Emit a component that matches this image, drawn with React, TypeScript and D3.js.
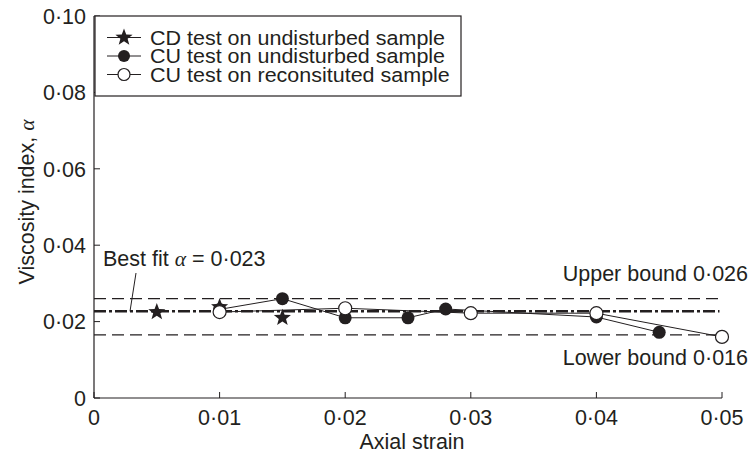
import React from "react";
import * as d3 from "d3";

const xTicks = [0, 0.01, 0.02, 0.03, 0.04, 0.05];
const yTicks = [0, 0.02, 0.04, 0.06, 0.08, 0.1];
const xTickLabels = ["0", "0·01", "0·02", "0·03", "0·04", "0·05"];
const yTickLabels = ["0", "0·02", "0·04", "0·06", "0·08", "0·10"];

const cdX = [0.005, 0.01, 0.015];
const cdY = [0.0225, 0.0238, 0.021];

const cuUndX = [0.01, 0.015, 0.02, 0.025, 0.028, 0.04, 0.045];
const cuUndY = [0.0232, 0.026, 0.021, 0.021, 0.0233, 0.0212, 0.0172];

const cuRecX = [0.01, 0.02, 0.03, 0.04, 0.05];
const cuRecY = [0.0225, 0.0235, 0.0222, 0.0222, 0.016];

const bestFit = 0.0227;
const upperBound = 0.026;
const lowerBound = 0.0165;
const refLineEnd = 0.0498;

const legendLabels = [
  "CD test on undisturbed sample",
  "CU test on undisturbed sample",
  "CU test on reconsituted sample",
];

const INK = "#231f20";
const FONT = "'Liberation Sans', Arial, sans-serif";
const FS = 21.5;
const LEG_FS = 19.5;
const LEG_SX = 21.5 / 19.5;

function starPath(cx: number, cy: number, R: number, r: number) {
  const pts: string[] = [];
  for (let i = 0; i < 10; i++) {
    const ang = -Math.PI / 2 + (i * Math.PI) / 5;
    const rad = i % 2 === 0 ? R : r;
    pts.push(`${cx + rad * Math.cos(ang)},${cy + rad * Math.sin(ang)}`);
  }
  return `M${pts.join("L")}Z`;
}

export default function App() {
  const W = 753;
  const H = 457;
  const x = d3.scaleLinear().domain([0, 0.05]).range([94, 722]);
  const y = d3.scaleLinear().domain([0, 0.1]).range([398, 16]);
  const line = d3
    .line<[number, number]>()
    .x((d) => x(d[0]))
    .y((d) => y(d[1]));

  const und: [number, number][] = cuUndX.map((v, i) => [v, cuUndY[i]]);
  const rec: [number, number][] = cuRecX.map((v, i) => [v, cuRecY[i]]);

  const legendRows = [37.5, 56, 74.5];

  return (
    <svg
      width={W}
      height={H}
      style={{ position: "absolute", left: 0, top: 0, background: "#fff" }}
      fontFamily={FONT}
    >
      <rect x={0} y={0} width={W} height={H} fill="#fff" />
      {/* axes */}
      <line x1={x(0)} x2={x(0)} y1={y(0)} y2={y(0.1)} stroke={INK} strokeWidth={1.2} />
      <line x1={x(0)} x2={x(0.05)} y1={y(0)} y2={y(0)} stroke={INK} strokeWidth={1.2} />
      {yTicks.map((t, i) => (
        <g key={"yt" + i}>
          <line x1={x(0)} x2={x(0) + 6} y1={y(t)} y2={y(t)} stroke={INK} strokeWidth={1} />
          <text
            x={86}
            y={y(t)}
            dy="0.36em"
            textAnchor="end"
            fontSize={FS}
            fill={INK}
          >
            {yTickLabels[i]}
          </text>
        </g>
      ))}
      {xTicks.map((t, i) => (
        <g key={"xt" + i}>
          <line x1={x(t)} x2={x(t)} y1={y(0)} y2={y(0) - 6} stroke={INK} strokeWidth={1} />
          <text
            x={x(t)}
            y={417}
            dy="0.36em"
            textAnchor="middle"
            fontSize={FS}
            fill={INK}
          >
            {xTickLabels[i]}
          </text>
        </g>
      ))}
      <text x={412} y={441} dy="0.36em" textAnchor="middle" fontSize={FS} fill={INK}>
        Axial strain
      </text>
      <text
        transform={`translate(34, 202) rotate(-90)`}
        textAnchor="middle"
        fontSize={FS}
        fill={INK}
      >
        Viscosity index,{" "}
        <tspan fontFamily="'Liberation Serif', 'DejaVu Serif', serif" fontStyle="italic">
          α
        </tspan>
      </text>

      {/* reference lines */}
      <line
        x1={x(0)}
        x2={x(refLineEnd)}
        y1={y(upperBound)}
        y2={y(upperBound)}
        stroke={INK}
        strokeWidth={1.2}
        strokeDasharray="12,6"
      />
      <line
        x1={x(0)}
        x2={x(refLineEnd)}
        y1={y(lowerBound)}
        y2={y(lowerBound)}
        stroke={INK}
        strokeWidth={1.2}
        strokeDasharray="12,6"
      />
      <line
        x1={x(0)}
        x2={x(refLineEnd)}
        y1={y(bestFit)}
        y2={y(bestFit)}
        stroke={INK}
        strokeWidth={2.6}
        strokeDasharray="12,3,3,3"
      />

      {/* annotations */}
      <text x={103} y={266} fontSize={FS} fill={INK}>
        Best fit{" "}
        <tspan fontFamily="'Liberation Serif', 'DejaVu Serif', serif" fontStyle="italic">
          α
        </tspan>{" "}
        = 0·023
      </text>
      <line x1={136} y1={273} x2={130} y2={y(bestFit)} stroke={INK} strokeWidth={1} />
      <text x={748} y={281} textAnchor="end" fontSize={FS} fill={INK}>
        Upper bound 0·026
      </text>
      <text x={748} y={365} textAnchor="end" fontSize={FS} fill={INK}>
        Lower bound 0·016
      </text>

      {/* CD stars */}
      {cdX.map((v, i) => (
        <path key={"s" + i} d={starPath(x(v), y(cdY[i]), 9, 3.8)} fill={INK} />
      ))}

      {/* CU undisturbed */}
      <path d={line(und) || ""} fill="none" stroke={INK} strokeWidth={1} />
      {und.map((d, i) => (
        <circle key={"f" + i} cx={x(d[0])} cy={y(d[1])} r={6.5} fill={INK} />
      ))}

      {/* CU reconstituted */}
      <path d={line(rec) || ""} fill="none" stroke={INK} strokeWidth={1} />
      {rec.map((d, i) => (
        <circle
          key={"o" + i}
          cx={x(d[0])}
          cy={y(d[1])}
          r={6.5}
          fill="#fff"
          stroke={INK}
          strokeWidth={1.2}
        />
      ))}

      {/* legend */}
      <rect x={95} y={16} width={366} height={80} fill="#fff" stroke={INK} strokeWidth={1.2} />
      {legendLabels.map((lab, i) => {
        const cy = legendRows[i];
        return (
          <g key={"lg" + i}>
            <line x1={107} x2={141} y1={cy} y2={cy} stroke={INK} strokeWidth={1} />
            {i === 0 && <path d={starPath(124, cy, 9, 3.8)} fill={INK} />}
            {i === 1 && <circle cx={124} cy={cy} r={6} fill={INK} />}
            {i === 2 && (
              <circle cx={124} cy={cy} r={6} fill="#fff" stroke={INK} strokeWidth={1.2} />
            )}
            <text
              transform={`translate(150, ${cy}) scale(${LEG_SX}, 1)`}
              dy="0.36em"
              fontSize={LEG_FS}
              fill={INK}
            >
              {lab}
            </text>
          </g>
        );
      })}
    </svg>
  );
}
